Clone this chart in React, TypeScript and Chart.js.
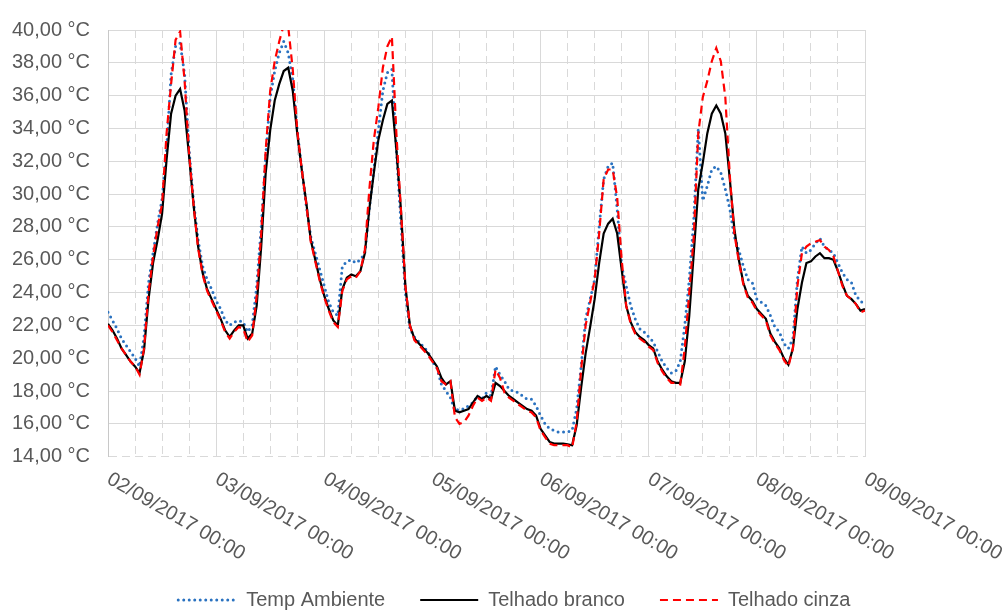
import React, { useEffect, useRef } from "react";
import { Chart, registerables } from "chart.js";

Chart.register(...registerables);

// Hours since 02/09/2017 00:00 (hourly samples)
const hours: number[] = Array.from({ length: 169 }, (_, i) => i);

const xTickHours = [0, 24, 48, 72, 96, 120, 144, 168];
const xTickLabels = [
  "02/09/2017 00:00",
  "03/09/2017 00:00",
  "04/09/2017 00:00",
  "05/09/2017 00:00",
  "06/09/2017 00:00",
  "07/09/2017 00:00",
  "08/09/2017 00:00",
  "09/09/2017 00:00",
];

const seriesNames = ["Temp Ambiente", "Telhado branco", "Telhado cinza"];

const tempAmbiente = [
  22.8, 22.3, 21.8, 21.2, 20.8, 20.4, 20.0, 19.5, 21.3, 24.6,
  26.4, 28.2, 29.7, 32.7, 37.3, 39.0, 39.2, 37.3, 32.7, 29.5,
  27.2, 25.6, 24.8, 24.2, 23.5, 23.0, 22.3, 22.0, 22.2, 22.3,
  22.2, 21.6, 22.0, 24.4, 28.0, 32.3, 35.9, 37.5, 38.6, 39.3,
  38.6, 37.0, 33.9, 31.5, 29.3, 27.4, 26.4, 25.4, 24.4, 23.4,
  22.8, 22.6, 25.6, 25.9, 26.0, 25.8, 26.0, 26.4, 29.1, 31.5,
  33.9, 36.3, 37.4, 37.6, 32.7, 28.3, 24.0, 21.8, 21.3, 21.0,
  20.7, 20.4, 19.8, 19.4, 18.4, 18.0, 17.6, 16.8, 16.9, 16.9,
  17.1, 17.3, 17.7, 17.5, 17.9, 17.7, 19.5, 19.0, 18.6, 18.1,
  18.0, 17.9, 17.7, 17.5, 17.5, 17.1, 16.5, 16.0, 15.7, 15.6,
  15.5, 15.5, 15.5, 15.6, 16.9, 19.5, 22.4, 23.6, 24.8, 28.0,
  30.9, 31.7, 31.9, 29.1, 25.6, 24.4, 23.2, 22.4, 21.8, 21.6,
  21.3, 21.0, 20.4, 19.8, 19.4, 19.1, 19.2, 19.8, 22.0, 24.8,
  28.5, 34.0, 29.6, 30.5, 31.5, 31.7, 31.3, 30.3, 29.1, 27.4,
  26.6, 25.6, 24.8, 24.6, 23.6, 23.4, 23.2, 22.6, 21.9, 21.6,
  20.9, 20.6, 21.2, 24.8, 26.8, 26.4, 26.6, 27.0, 27.3, 26.8,
  26.6, 26.4, 25.8, 25.2, 24.8, 24.6, 23.8, 23.5, 23.2,
];

const telhadoBranco = [
  22.1, 21.7, 21.2, 20.6, 20.2, 19.8, 19.5, 19.1, 20.5, 23.6,
  25.8, 27.2, 28.8, 32.1, 34.9, 36.0, 36.4, 35.1, 32.3, 29.3,
  26.8, 25.2, 24.2, 23.6, 23.0, 22.4, 21.7, 21.3, 21.7, 22.0,
  22.0, 21.2, 21.5, 23.2, 26.8, 31.3, 33.9, 35.7, 36.7, 37.5,
  37.7, 36.3, 33.7, 31.5, 29.5, 27.2, 26.0, 24.8, 23.8, 23.0,
  22.3, 22.0, 24.2, 24.9, 25.1, 25.0, 25.3, 26.4, 29.1, 31.3,
  33.3, 34.5, 35.5, 35.7, 32.7, 29.1, 24.4, 22.0, 21.2, 20.9,
  20.6, 20.3, 19.9, 19.5, 18.8, 18.4, 18.6, 16.8, 16.7, 16.8,
  16.9, 17.3, 17.7, 17.5, 17.7, 17.5, 18.5, 18.3, 18.0, 17.7,
  17.5, 17.3, 17.1, 16.9, 16.8, 16.5, 15.7, 15.3, 14.9, 14.8,
  14.8, 14.8, 14.75, 14.7, 15.9, 18.2, 20.3, 21.9, 23.6, 25.8,
  27.6, 28.2, 28.5, 27.6, 25.4, 23.2, 22.2, 21.6, 21.3, 21.1,
  20.8, 20.6, 19.8, 19.3, 18.9, 18.6, 18.5, 18.5, 19.8, 22.6,
  26.4, 30.3, 31.9, 33.7, 34.9, 35.4, 34.9, 33.7, 30.9, 27.9,
  26.0, 24.6, 23.8, 23.5, 23.0, 22.7, 22.4, 21.5, 21.0, 20.6,
  20.0, 19.6, 20.6, 23.0, 24.6, 25.8, 25.9, 26.2, 26.4, 26.1,
  26.1, 26.0, 25.3, 24.5, 23.8, 23.6, 23.3, 22.9, 23.0,
];

const telhadoCinza = [
  22.0, 21.6, 21.1, 20.6, 20.2, 19.8, 19.5, 19.0, 20.6, 24.0,
  26.2, 28.0, 29.4, 33.7, 36.7, 39.4, 39.9, 36.9, 32.5, 29.3,
  26.7, 25.1, 24.1, 23.5, 22.9, 22.3, 21.6, 21.2, 21.6, 21.9,
  21.8, 21.0, 21.4, 23.8, 27.6, 32.7, 36.3, 38.1, 39.3, 40.3,
  40.2, 37.6, 33.9, 31.5, 29.4, 27.1, 25.9, 24.7, 23.7, 22.9,
  22.2, 21.9, 24.1, 24.8, 25.0, 24.9, 25.3, 26.6, 30.3, 33.3,
  35.3, 37.7, 39.0, 39.6, 33.7, 29.1, 24.4, 22.0, 21.1, 20.8,
  20.5, 20.2, 19.8, 19.4, 18.6, 18.4, 18.6, 16.4, 16.0, 16.1,
  16.5, 17.1, 17.6, 17.4, 17.6, 17.4, 19.3, 18.8, 17.9, 17.6,
  17.4, 17.2, 17.0, 16.8, 16.7, 16.4, 15.6, 15.2, 14.8, 14.7,
  14.7, 14.7, 14.7, 14.55, 16.1, 19.3, 22.0, 23.4, 24.8, 27.6,
  30.9, 31.5, 31.5, 29.8, 26.0, 23.2, 22.1, 21.5, 21.2, 21.0,
  20.7, 20.5, 19.7, 19.2, 18.8, 18.5, 18.5, 18.4, 20.6, 24.0,
  27.4, 33.7, 35.9, 36.9, 38.1, 38.9, 38.1, 35.9, 31.1, 27.6,
  25.9, 24.5, 23.7, 23.4, 22.9, 22.6, 22.3, 21.4, 20.9, 20.5,
  19.9, 19.5, 20.6, 24.4, 26.4, 26.8, 27.0, 27.1, 27.2, 26.8,
  26.6, 26.2, 25.3, 24.4, 23.8, 23.6, 23.3, 22.8, 22.9,
];

const FONT = '"Liberation Sans", Arial, sans-serif';
const TEXT_COLOR = "#595959";
const GRID_COLOR = "#D9D9D9";

const xLabelPlugin = {
  id: "rotatedXLabels",
  afterDraw(chart: any) {
    const scale = chart.scales.x;
    const ctx = chart.ctx as CanvasRenderingContext2D;
    ctx.save();
    ctx.font = `20px ${FONT}`;
    ctx.fillStyle = TEXT_COLOR;
    ctx.textAlign = "left";
    ctx.textBaseline = "middle";
    xTickLabels.forEach((label, i) => {
      const x = scale.getPixelForValue(xTickHours[i]);
      ctx.save();
      ctx.translate(x + 0.5, chart.chartArea.bottom + 21);
      ctx.rotate(Math.PI / 6);
      ctx.fillText(label, 0, 0);
      ctx.restore();
    });
    ctx.restore();
  },
};

export default function App() {
  const canvasRef = useRef<HTMLCanvasElement | null>(null);

  useEffect(() => {
    if (!canvasRef.current) return;
    Chart.defaults.font.family = FONT;
    Chart.defaults.font.size = 20;
    Chart.defaults.color = TEXT_COLOR;

    const mk = (arr: number[]) => hours.map((h, i) => ({ x: h, y: arr[i] }));

    const chart = new Chart(canvasRef.current, {
      type: "line",
      data: {
        datasets: [
          {
            label: seriesNames[0],
            data: mk(tempAmbiente),
            borderColor: "#2A72C0",
            backgroundColor: "#2A72C0",
            borderWidth: 3,
            borderDash: [0, 5.5],
            borderCapStyle: "round",
            pointRadius: 0,
            tension: 0,
            order: 3,
          },
          {
            label: seriesNames[1],
            data: mk(telhadoBranco),
            borderColor: "#000000",
            backgroundColor: "#000000",
            borderWidth: 2.2,
            pointRadius: 0,
            tension: 0,
            order: 2,
          },
          {
            label: seriesNames[2],
            data: mk(telhadoCinza),
            borderColor: "#FF0000",
            backgroundColor: "#FF0000",
            borderWidth: 2.2,
            borderDash: [8, 5],
            pointRadius: 0,
            tension: 0,
            order: 1,
          },
        ],
      },
      options: {
        animation: false,
        responsive: false,
        maintainAspectRatio: false,
        parsing: false as any,
        layout: { padding: { left: 8, right: -12.5, top: 19, bottom: -6 } },
        plugins: {
          tooltip: { enabled: false },
          legend: {
            position: "bottom",
            labels: {
              usePointStyle: true,
              pointStyleWidth: 58,
              padding: 35,
              color: TEXT_COLOR,
              font: { size: 20, family: FONT },
              generateLabels: (chart: any) =>
                chart.data.datasets.map((ds: any, i: number) => ({
                  text: ds.label,
                  fillStyle: ds.borderColor,
                  strokeStyle: ds.borderColor,
                  lineWidth: ds.borderWidth,
                  lineDash: ds.borderDash || [],
                  lineCap: ds.borderCapStyle || "butt",
                  pointStyle: "line",
                  hidden: false,
                  datasetIndex: i,
                  fontColor: TEXT_COLOR,
                })),
            },
          },
        },
        scales: {
          x: {
            type: "linear",
            min: 0,
            max: 168,
            ticks: { display: false, stepSize: 6 },
            grid: {
              color: GRID_COLOR,
              lineWidth: 1,
              drawTicks: false,
            },
            border: {
              display: false,
              dash: (ctx: any) =>
                ctx.tick && ctx.tick.value % 24 === 0 ? [] : [8, 5],
            },
            afterFit: (s: any) => {
              s.height = 98.3;
            },
          },
          y: {
            type: "linear",
            position: "left",
            min: 14,
            max: 40,
            ticks: {
              stepSize: 2,
              padding: 18,
              color: TEXT_COLOR,
              font: { size: 20, family: FONT },
              callback: (v: any) => Number(v).toFixed(2).replace(".", ",") + " °C",
            },
            grid: {
              color: GRID_COLOR,
              lineWidth: 1,
              drawTicks: false,
            },
            border: {
              display: true,
              color: "#C8C8C8",
              dash: (ctx: any) =>
                ctx.tick && ctx.tick.value === 14 ? [8, 5] : [],
            },
            afterFit: (s: any) => {
              s.width = 100;
            },
          },
          yRight: {
            type: "linear",
            position: "right",
            display: true,
            ticks: { display: false },
            grid: { display: false, drawTicks: false },
            border: { display: false },
            afterFit: (s: any) => {
              s.width = 155.5;
            },
          },
        },
      } as any,
      plugins: [xLabelPlugin],
    });

    return () => chart.destroy();
  }, []);

  return (
    <div style={{ position: "fixed", left: 0, top: 0, width: 1008, height: 614, background: "#fff" }}>
      <canvas ref={canvasRef} width={1008} height={614} style={{ display: "block" }} />
    </div>
  );
}
